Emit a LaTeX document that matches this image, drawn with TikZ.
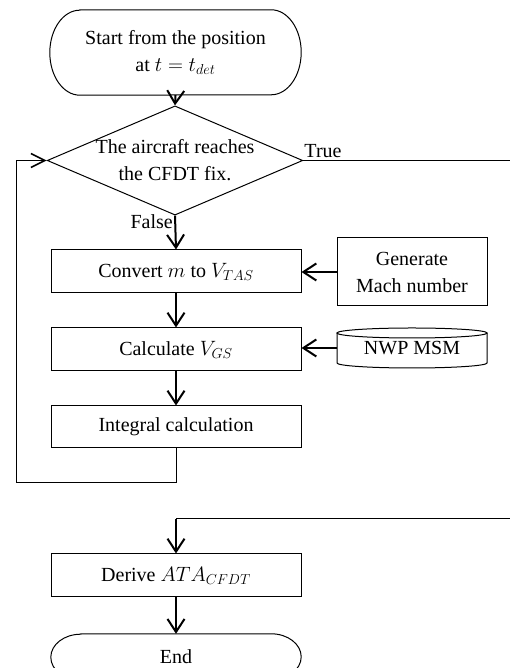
\documentclass[tikz,border=0pt]{standalone}
\usepackage{fontspec}
\setmainfont{Liberation Serif}
\usetikzlibrary{shapes.geometric,arrows.meta}
\begin{document}
\begin{tikzpicture}[x=1pt,y=1pt,
  every node/.style={font=\fontsize{20}{27}\selectfont, inner sep=0pt, align=center},
  procbox/.style={draw, line width=1pt, minimum width=250pt, minimum height=43pt},
  flowarrow/.style={line width=2pt, -{Straight Barb[length=13pt,width=17pt,line width=2pt]}},
  thinline/.style={line width=1pt},
  lbl/.style={font=\fontsize{20}{24}\selectfont}
]
\useasboundingbox (0,0) rectangle (509,668);
% start terminal
\node (start) at (175.5,615.5) [minimum width=251pt, minimum height=85pt] {Start from the position\\at $t = t_{det}$};
\draw[thinline] ([xshift=30pt]start.north west) -- ([xshift=-30pt]start.north east)
  arc[start angle=90,end angle=-90,x radius=30pt,y radius=42.5pt]
  -- ([xshift=30pt]start.south west)
  arc[start angle=270,end angle=90,x radius=30pt,y radius=42.5pt] -- cycle;
% decision
\node (dec) at (175,507.5) [draw, thinline, diamond, aspect=2.34, minimum width=250pt, minimum height=107pt] {The aircraft reaches\\the CFDT fix.};
% process boxes
\node (convert) at (176,396.5) [procbox] {Convert $m$ to $V_{TAS}$};
\node (gen) at (412,396) [draw, thinline, minimum width=150pt, minimum height=68pt] {Generate\\Mach number};
\node (calc) at (176,318.5) [procbox] {Calculate $V_{GS}$};
\node (nwp) at (412,320) [minimum width=150pt, minimum height=40pt] {\raisebox{-7pt}{NWP MSM}};
\draw[thinline] (337,335) -- (337,305) arc[start angle=180,end angle=360,x radius=75pt,y radius=5pt] -- (487,335);
\draw[thinline] (412,335) ellipse[x radius=75pt,y radius=5pt];
\node (integ) at (176,241) [procbox, minimum height=42pt] {Integral calculation};
\node (derive) at (176,92.5) [procbox] {Derive $ATA_{CFDT}$};
% end terminal
\node (end) at (176,11) [minimum width=250pt, minimum height=46pt] {End};
\draw[thinline] ([xshift=30pt]end.north west) -- ([xshift=-30pt]end.north east)
  arc[start angle=90,end angle=-90,x radius=30pt,y radius=23pt]
  -- ([xshift=30pt]end.south west)
  arc[start angle=270,end angle=90,x radius=30pt,y radius=23pt] -- cycle;
% coordinates
\coordinate (loopbot) at (16,185);
\coordinate (rightA) at (512,507.5);
\coordinate (rightB) at (512,149);
\coordinate (joinD) at (176,149);
% connectors
\draw[flowarrow] (start.south) -- (dec.north);
\draw[flowarrow] (dec.south) -- (convert.north);
\draw[flowarrow] (convert.south) -- (calc.north);
\draw[flowarrow] (calc.south) -- (integ.north);
\draw[flowarrow] (gen.west) -- (gen.west -| convert.east);
\draw[flowarrow] (nwp.west) -- (nwp.west -| calc.east);
\draw[thinline, -{Straight Barb[length=14pt,width=14pt,line width=1.6pt]}] (integ.south) |- (loopbot) |- (dec.west);
\draw[thinline] (dec.east) -- (rightA) -- (rightB) -- (joinD);
\draw[flowarrow] (joinD) -- (derive.north);
\draw[flowarrow] (derive.south) -- (end.north);
% labels
\node[lbl, anchor=south west] at ([xshift=1pt,yshift=3pt]dec.east) {True};
\node[lbl, anchor=east] at (173,446) {False};
\end{tikzpicture}
\end{document}
